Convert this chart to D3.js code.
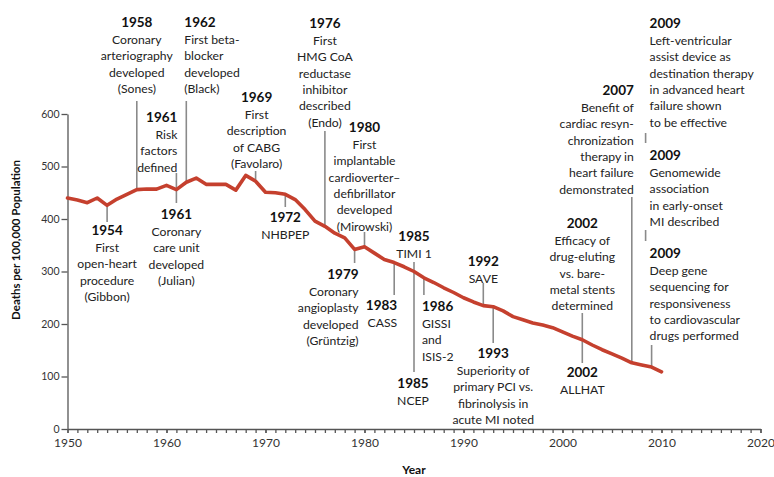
<!DOCTYPE html>
<html>
<head>
<meta charset="utf-8">
<script src="https://cdn.jsdelivr.net/npm/d3@7"></script>
<style>
  body { margin:0; background:#fff; }
  text { font-family: Lato, "Noto Sans", sans-serif; }
</style>
</head>
<body>
<svg></svg>
<script>
var screen = {width:774, height:477}
var margins = {top:114, right:13.5, bottom:48, left:67.5}

// deaths per 100,000 population
var years = d3.range(1950, 2011)
var deaths = [440,436,431,440,426,438,447,456,457,457,
              464,456,470,478,466,466,466,455,483,472,
              451,450,447,437,418,396,386,373,364,342,
              347,335,323,317,309,300,288,279,269,260,
              250,242,235,233,225,214,208,202,198,193,
              185,177,170,160,151,143,135,126,122,118,
              109]

var yTicks = [0,100,200,300,400,500,600]
var xTicks = [1950,1960,1970,1980,1990,2000,2010,2020]

// milestones: year label + text lines
var notes = [
  {year:"1954", lines:["First","open-heart","procedure","(Gibbon)"]},
  {year:"1958", lines:["Coronary","arteriography","developed","(Sones)"]},
  {year:"1962", lines:["First beta-","blocker","developed","(Black)"]},
  {year:"1961", lines:["Risk","factors","defined"]},
  {year:"1961", lines:["Coronary","care unit","developed","(Julian)"]},
  {year:"1969", lines:["First","description","of CABG","(Favolaro)"]},
  {year:"1972", lines:["NHBPEP"]},
  {year:"1976", lines:["First","HMG CoA","reductase","inhibitor","described","(Endo)"]},
  {year:"1980", lines:["First","implantable","cardioverter\u2013","defibrillator","developed","(Mirowski)"]},
  {year:"1979", lines:["Coronary","angioplasty","developed","(Gr\u00fcntzig)"]},
  {year:"1983", lines:["CASS"]},
  {year:"1985", lines:["TIMI 1"]},
  {year:"1985", lines:["NCEP"]},
  {year:"1986", lines:["GISSI","and","ISIS-2"]},
  {year:"1992", lines:["SAVE"]},
  {year:"1993", lines:["Superiority of","primary PCI vs.","fibrinolysis in","acute MI noted"]},
  {year:"2002", lines:["Efficacy of","drug-eluting","vs. bare-","metal stents","determined"]},
  {year:"2002", lines:["ALLHAT"]},
  {year:"2007", lines:["Benefit of","cardiac resyn-","chronization","therapy in","heart failure","demonstrated"]},
  {year:"2009", lines:["Left-ventricular","assist device as","destination therapy","in advanced heart","failure shown","to be effective"]},
  {year:"2009", lines:["Genomewide","association","in early-onset","MI described"]},
  {year:"2009", lines:["Deep gene","sequencing for","responsiveness","to cardiovascular","drugs performed"]}
]

// where each note sits: anchor year, alignment, x nudge, y of year label
var noteLayout = [
  {at:1954, anchor:"middle", dx:0,  y:230},
  {at:1957, anchor:"middle", dx:0,  y:22},
  {at:1962, anchor:"start",  dx:-2, y:22},
  {at:1961, anchor:"end",    dx:1,  y:117},
  {at:1961, anchor:"middle", dx:0,  y:214},
  {at:1969, anchor:"middle", dx:1,  y:97},
  {at:1972, anchor:"middle", dx:0,  y:217},
  {at:1976, anchor:"middle", dx:0,  y:23},
  {at:1980, anchor:"middle", dx:0,  y:127},
  {at:1979, anchor:"end",    dx:4,  y:274},
  {at:1983, anchor:"end",    dx:3,  y:305},
  {at:1985, anchor:"middle", dx:0,  y:236},
  {at:1985, anchor:"middle", dx:-1, y:383},
  {at:1986, anchor:"start",  dx:-2, y:306},
  {at:1992, anchor:"middle", dx:0,  y:261},
  {at:1993, anchor:"middle", dx:0,  y:353},
  {at:2002, anchor:"middle", dx:0,  y:223},
  {at:2002, anchor:"middle", dx:0,  y:372},
  {at:2007, anchor:"end",    dx:2,  y:90},
  {at:2009, anchor:"start",  dx:-2, y:23},
  {at:2009, anchor:"start",  dx:-2, y:155},
  {at:2009, anchor:"start",  dx:-2, y:253}
]

// leader lines: year, top y and bottom y ("line" = touch the curve)
var leaders = [
  {at:1954, y1:"line", y2:222},
  {at:1957, y1:101, y2:"line"},
  {at:1962, y1:101, y2:"line"},
  {at:1961, y1:173, y2:203},
  {at:1969, y1:171, y2:"line"},
  {at:1972, y1:"line", y2:207},
  {at:1976, y1:131, y2:"line"},
  {at:1980, y1:232, y2:"line"},
  {at:1979, y1:"line", y2:263},
  {at:1983, y1:"line", y2:295},
  {at:1985, y1:262, y2:372},
  {at:1986, y1:"line", y2:295},
  {at:1992, y1:283, y2:"line"},
  {at:1993, y1:"line", y2:343},
  {at:2002, y1:313, y2:363},
  {at:2007, y1:197, y2:"line"},
  {at:2009, y1:345, y2:"line"}
]
var separators = [{at:2009, y1:133, y2:143},{at:2009, y1:230, y2:241}]

var svg = d3.select("svg")
    .attr("width",screen.width)
    .attr("height",screen.height)

var width = screen.width - margins.left - margins.right
var height = screen.height - margins.top - margins.bottom

var xScale = d3.scaleLinear().domain([1950,2020]).range([margins.left, margins.left+width])
var yScale = d3.scaleLinear().domain([0,600]).range([margins.top+height, margins.top])

var axisColor = "#555"

// minor year ticks
svg.append("g")
    .attr("transform","translate(0,"+(margins.top+height)+")")
    .call(d3.axisBottom(xScale).tickValues(d3.range(1950,2021)).tickSize(4).tickSizeOuter(0).tickFormat(""))
    .call(function(g){ g.selectAll("path,line").attr("stroke",axisColor).attr("stroke-width",1.3) })

// decade labels
svg.append("g")
    .attr("transform","translate(0,"+(margins.top+height)+")")
    .call(d3.axisBottom(xScale).tickValues(xTicks).tickSize(4).tickSizeOuter(0).tickFormat(d3.format("d")))
    .call(function(g){
        g.select(".domain").remove()
        g.selectAll("line").attr("stroke",axisColor).attr("stroke-width",1.3)
        g.selectAll("text").attr("fill","#333").attr("font-size",12).attr("font-family","Lato, sans-serif").attr("dy","0.9em")
    })

svg.append("g")
    .attr("transform","translate("+margins.left+",0)")
    .call(d3.axisLeft(yScale).tickValues(yTicks).tickSize(6).tickSizeOuter(0).tickPadding(2))
    .call(function(g){
        g.selectAll("path,line").attr("stroke",axisColor).attr("stroke-width",1.3)
        g.selectAll("text").attr("fill","#333").attr("font-size",10.5).attr("font-family","Lato, sans-serif")
    })

svg.append("text")
    .attr("transform","translate(20,"+240+") rotate(-90)")
    .attr("text-anchor","middle")
    .attr("font-weight","bold").attr("font-size",11.5).attr("fill","#111")
    .text("Deaths per 100,000 Population")

svg.append("text")
    .attr("x",xScale(1985)).attr("y",474)
    .attr("text-anchor","middle")
    .attr("font-weight","bold").attr("font-size",12).attr("fill","#111")
    .text("Year")

var valueAt = function(yr){ return deaths[years.indexOf(yr)] }
var yOf = function(v, yr){ return v==="line" ? yScale(valueAt(yr)) : v }

// leaders
svg.append("g").selectAll("line")
    .data(leaders.concat(separators.map(function(s){ return {at:s.at, y1:s.y1, y2:s.y2, dx:-6} })))
    .enter().append("line")
    .attr("x1",function(d){ return xScale(d.at)+(d.dx||0) })
    .attr("x2",function(d){ return xScale(d.at)+(d.dx||0) })
    .attr("y1",function(d){ return yOf(d.y1,d.at) })
    .attr("y2",function(d){ return yOf(d.y2,d.at) })
    .attr("stroke","#8a8a8a").attr("stroke-width",1.6)

// the curve
var lineGenerator = d3.line()
    .x(function(d,i){ return xScale(years[i]) })
    .y(function(d){ return yScale(d) })

svg.append("path")
    .datum(deaths)
    .attr("d",lineGenerator)
    .attr("fill","none")
    .attr("stroke","#c5402e")
    .attr("stroke-width",3.6)
    .attr("stroke-linejoin","round")
    .attr("stroke-linecap","round")

// notes
var noteGroups = svg.append("g").selectAll("text")
    .data(notes)
    .enter().append("text")
    .attr("text-anchor",function(d,i){ return noteLayout[i].anchor })
    .attr("fill","#222")

noteGroups.each(function(d,i){
    var l = noteLayout[i]
    var x = xScale(l.at)+l.dx
    var t = d3.select(this)
    t.append("tspan")
        .attr("x",x).attr("y",l.y+5)
        .attr("font-weight","bold").attr("font-size",13.5).attr("fill","#111")
        .text(d.year)
    d.lines.forEach(function(s,k){
        t.append("tspan")
            .attr("x",x).attr("y",l.y+5+17+k*16.3)
            .attr("font-size",12.2)
            .text(s)
    })
})
</script>
</body>
</html>
